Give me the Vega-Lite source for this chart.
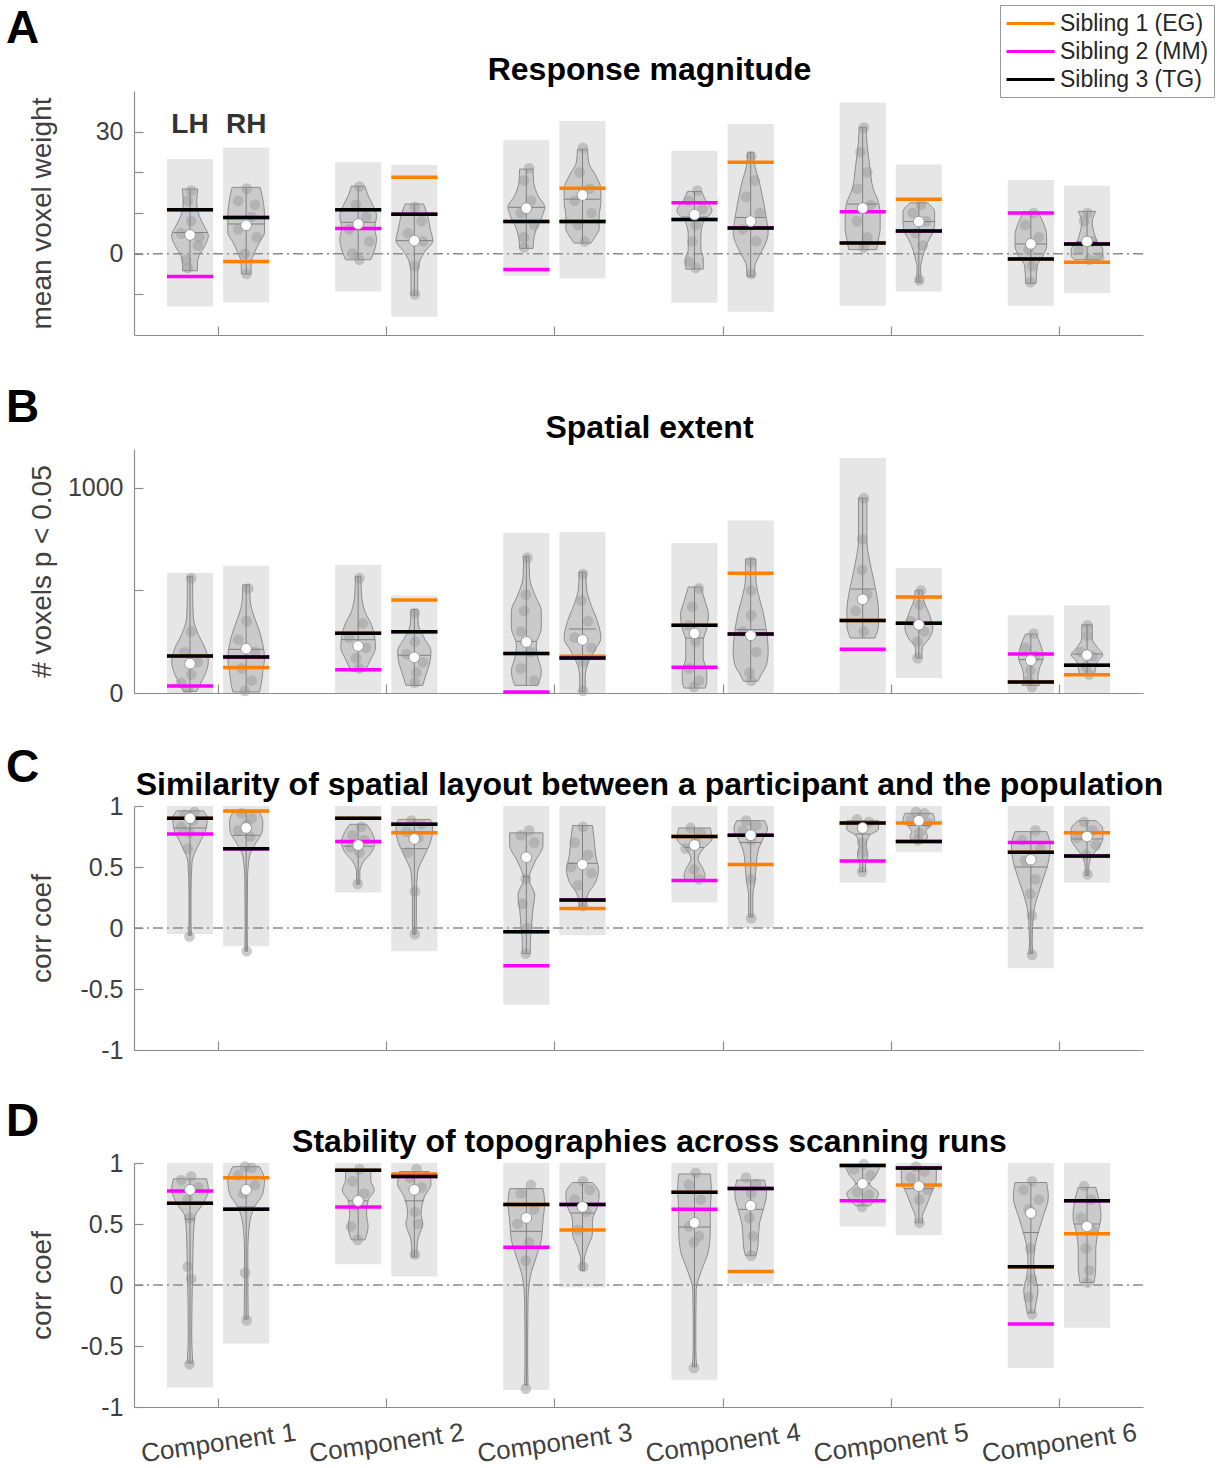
{
"$schema":"https://vega.github.io/schema/vega-lite/v6.json",
"background":"white",
"padding":{"left":6,"top":4,"right":5,"bottom":0},
"spacing":39,
"config":{"font":"Liberation Sans","view":{"stroke":null},
"axis":{"domainColor":"#8c8c8c","tickColor":"#8c8c8c","domainWidth":1.2,"tickWidth":1.2,"tickSize":-9,"labelColor":"#404040","labelFontSize":25,"titleColor":"#404040","titleFontSize":28,"titleFontWeight":"normal","grid":false,"labelFlush":false,"labelOverlap":false,"labelPadding":20},
"title":{"color":"#000","font":"Liberation Sans"}},
"datasets":{
"hl":[{"x":0.833,"y":31.6,"t":"LH"},{"x":1.167,"y":31.6,"t":"RH"}],
"gA":[
{"g":"A1L","c":0.833,"l":0.696,"r":0.970,"lo":-13,"hi":23.3,"md":4.6,"wl":-4.2,"wh":15.9,"mn":5.2,"ml":0.733,"mr":0.933,"EG":10.8,"MM":-5.6,"TG":10.8},
{"g":"A1R","c":1.167,"l":1.030,"r":1.304,"lo":-12,"hi":26.1,"md":7.0,"wl":-5,"wh":16.3,"mn":7.3,"ml":1.058,"mr":1.276,"EG":-1.9,"MM":8.9,"TG":8.9},
{"g":"A2L","c":1.833,"l":1.696,"r":1.970,"lo":-9.3,"hi":22.5,"md":7.3,"wl":-1.5,"wh":16.6,"mn":7.7,"ml":1.733,"mr":1.933,"EG":10.8,"MM":6.2,"TG":10.8},
{"g":"A2R","c":2.167,"l":2.030,"r":2.304,"lo":-15.5,"hi":21.8,"md":3.2,"wl":-10.2,"wh":12.2,"mn":3.2,"ml":2.058,"mr":2.276,"EG":18.8,"MM":9.7,"TG":9.7},
{"g":"A3L","c":2.833,"l":2.696,"r":2.970,"lo":-5.4,"hi":28,"md":11.2,"wl":1.3,"wh":20.8,"mn":11.4,"ml":2.724,"mr":2.942,"EG":7.9,"MM":-3.9,"TG":7.9},
{"g":"A3R","c":3.167,"l":3.030,"r":3.304,"lo":-6.1,"hi":32.6,"md":14.4,"wl":2.6,"wh":25.7,"mn":13.4,"ml":3.058,"mr":3.276,"EG":16.1,"MM":7.9,"TG":7.9},
{"g":"A4L","c":3.833,"l":3.696,"r":3.970,"lo":-12.1,"hi":25.3,"md":9.6,"wl":-3.8,"wh":15.3,"mn":9.0,"ml":3.76,"mr":3.91,"EG":8.4,"MM":12.5,"TG":8.4},
{"g":"A4R","c":4.167,"l":4.030,"r":4.304,"lo":-14.3,"hi":31.9,"md":8.0,"wl":-5.6,"wh":24.9,"mn":8.9,"ml":4.075,"mr":4.259,"EG":22.5,"MM":6.3,"TG":6.3},
{"g":"A5L","c":4.833,"l":4.696,"r":4.970,"lo":-12.8,"hi":37.2,"md":11.2,"wl":1.0,"wh":31.1,"mn":12.2,"ml":4.741,"mr":4.925,"EG":2.6,"MM":10.3,"TG":2.6},
{"g":"A5R","c":5.167,"l":5.030,"r":5.304,"lo":-9.3,"hi":21.9,"md":7.9,"wl":-7,"wh":12.5,"mn":7.9,"ml":5.073,"mr":5.261,"EG":13.4,"MM":5.6,"TG":5.6},
{"g":"A6L","c":5.833,"l":5.696,"r":5.970,"lo":-12.8,"hi":18.1,"md":2.4,"wl":-7.3,"wh":10.3,"mn":2.4,"ml":5.739,"mr":5.927,"EG":-1.3,"MM":10.0,"TG":-1.3},
{"g":"A6R","c":6.167,"l":6.030,"r":6.304,"lo":-9.7,"hi":16.7,"md":3.0,"wl":-1.5,"wh":10.4,"mn":3.0,"ml":6.107,"mr":6.227,"EG":-2.1,"MM":2.4,"TG":2.4}],
"gB":[
{"g":"B1L","c":0.833,"l":0.696,"r":0.970,"lo":0,"hi":585,"md":143,"wl":8,"wh":569,"mn":175,"ml":0.736,"mr":0.930,"EG":180,"MM":34,"TG":180},
{"g":"B1R","c":1.167,"l":1.030,"r":1.304,"lo":0,"hi":621,"md":216,"wl":5,"wh":528,"mn":213,"ml":1.063,"mr":1.271,"EG":124,"MM":176,"TG":176},
{"g":"B2L","c":1.833,"l":1.696,"r":1.970,"lo":0,"hi":626,"md":229,"wl":106,"wh":569,"mn":260,"ml":1.734,"mr":1.932,"EG":291,"MM":114,"TG":291},
{"g":"B2R","c":2.167,"l":2.030,"r":2.304,"lo":0,"hi":475,"md":174,"wl":37,"wh":407,"mn":184,"ml":2.070,"mr":2.264,"EG":454,"MM":299,"TG":299},
{"g":"B3L","c":2.833,"l":2.696,"r":2.970,"lo":0,"hi":780,"md":249,"wl":37,"wh":667,"mn":252,"ml":2.776,"mr":2.890,"EG":193,"MM":5,"TG":193},
{"g":"B3R","c":3.167,"l":3.030,"r":3.304,"lo":0,"hi":785,"md":259,"wl":5,"wh":590,"mn":312,"ml":3.087,"mr":3.247,"EG":179,"MM":171,"TG":171},
{"g":"B4L","c":3.833,"l":3.696,"r":3.970,"lo":0,"hi":732,"md":291,"wl":24,"wh":517,"mn":268,"ml":3.781,"mr":3.885,"EG":330,"MM":125,"TG":330},
{"g":"B4R","c":4.167,"l":4.030,"r":4.304,"lo":0,"hi":841,"md":281,"wl":57,"wh":654,"mn":309,"ml":4.080,"mr":4.254,"EG":584,"MM":288,"TG":288},
{"g":"B5L","c":4.833,"l":4.696,"r":4.970,"lo":0,"hi":1146,"md":457,"wl":268,"wh":951,"mn":507,"ml":4.763,"mr":4.903,"EG":353,"MM":213,"TG":353},
{"g":"B5R","c":5.167,"l":5.030,"r":5.304,"lo":73,"hi":610,"md":333,"wl":171,"wh":501,"mn":340,"ml":5.086,"mr":5.248,"EG":468,"MM":340,"TG":340},
{"g":"B6L","c":5.833,"l":5.696,"r":5.970,"lo":0,"hi":379,"md":159,"wl":37,"wh":288,"mn":163,"ml":5.762,"mr":5.904,"EG":54,"MM":190,"TG":54},
{"g":"B6R","c":6.167,"l":6.030,"r":6.304,"lo":0,"hi":428,"md":185,"wl":89,"wh":333,"mn":190,"ml":6.080,"mr":6.254,"EG":89,"MM":135,"TG":135}],
"gC":[
{"g":"C1L","c":0.833,"l":0.696,"r":0.970,"lo":-0.05,"hi":1,"md":0.90,"wl":-0.06,"wh":0.96,"mn":0.82,"ml":0.737,"mr":0.929,"EG":0.90,"MM":0.77,"TG":0.90},
{"g":"C1R","c":1.167,"l":1.030,"r":1.304,"lo":-0.15,"hi":1,"md":0.82,"wl":-0.19,"wh":0.95,"mn":0.76,"ml":1.087,"mr":1.247,"EG":0.96,"MM":0.65,"TG":0.65},
{"g":"C2L","c":1.833,"l":1.696,"r":1.970,"lo":0.29,"hi":1,"md":0.68,"wl":0.36,"wh":0.85,"mn":0.67,"ml":1.744,"mr":1.922,"EG":0.90,"MM":0.71,"TG":0.90},
{"g":"C2R","c":2.167,"l":2.030,"r":2.304,"lo":-0.19,"hi":1,"md":0.73,"wl":-0.05,"wh":0.89,"mn":0.65,"ml":2.092,"mr":2.242,"EG":0.78,"MM":0.85,"TG":0.85},
{"g":"C3L","c":2.833,"l":2.696,"r":2.970,"lo":-0.63,"hi":1,"md":0.58,"wl":-0.21,"wh":0.78,"mn":0.42,"ml":2.813,"mr":2.853,"EG":-0.03,"MM":-0.31,"TG":-0.03},
{"g":"C3R","c":3.167,"l":3.030,"r":3.304,"lo":-0.06,"hi":1,"md":0.52,"wl":0.18,"wh":0.84,"mn":0.53,"ml":3.078,"mr":3.256,"EG":0.16,"MM":0.23,"TG":0.23},
{"g":"C4L","c":3.833,"l":3.696,"r":3.970,"lo":0.21,"hi":1,"md":0.68,"wl":0.39,"wh":0.82,"mn":0.66,"ml":3.775,"mr":3.891,"EG":0.75,"MM":0.39,"TG":0.75},
{"g":"C4R","c":4.167,"l":4.030,"r":4.304,"lo":0.0,"hi":1,"md":0.76,"wl":0.09,"wh":0.88,"mn":0.70,"ml":4.10,"mr":4.234,"EG":0.52,"MM":0.76,"TG":0.76},
{"g":"C5L","c":4.833,"l":4.696,"r":4.970,"lo":0.37,"hi":1,"md":0.82,"wl":0.46,"wh":0.88,"mn":0.77,"ml":4.79,"mr":4.876,"EG":0.86,"MM":0.55,"TG":0.86},
{"g":"C5R","c":5.167,"l":5.030,"r":5.304,"lo":0.62,"hi":1,"md":0.88,"wl":0.70,"wh":0.94,"mn":0.84,"ml":5.103,"mr":5.231,"EG":0.86,"MM":0.71,"TG":0.71},
{"g":"C6L","c":5.833,"l":5.696,"r":5.970,"lo":-0.33,"hi":1,"md":0.56,"wl":-0.21,"wh":0.79,"mn":0.50,"ml":5.733,"mr":5.933,"EG":0.62,"MM":0.70,"TG":0.62},
{"g":"C6R","c":6.167,"l":6.030,"r":6.304,"lo":0.37,"hi":1,"md":0.75,"wl":0.43,"wh":0.88,"mn":0.73,"ml":6.073,"mr":6.261,"EG":0.78,"MM":0.59,"TG":0.59}],
"gD":[
{"g":"D1L","c":0.833,"l":0.696,"r":0.970,"lo":-0.84,"hi":1,"md":0.78,"wl":-0.64,"wh":0.87,"mn":0.54,"ml":0.803,"mr":0.863,"EG":0.67,"MM":0.77,"TG":0.67},
{"g":"D1R","c":1.167,"l":1.030,"r":1.304,"lo":-0.48,"hi":1,"md":0.78,"wl":-0.28,"wh":0.97,"mn":0.64,"ml":1.117,"mr":1.217,"EG":0.88,"MM":0.62,"TG":0.62},
{"g":"D2L","c":1.833,"l":1.696,"r":1.970,"lo":0.17,"hi":1,"md":0.69,"wl":0.37,"wh":0.94,"mn":0.69,"ml":1.774,"mr":1.892,"EG":0.94,"MM":0.64,"TG":0.94},
{"g":"D2R","c":2.167,"l":2.030,"r":2.304,"lo":0.07,"hi":1,"md":0.78,"wl":0.23,"wh":0.93,"mn":0.69,"ml":2.108,"mr":2.226,"EG":0.91,"MM":0.89,"TG":0.89},
{"g":"D3L","c":2.833,"l":2.696,"r":2.970,"lo":-0.86,"hi":1,"md":0.55,"wl":-0.82,"wh":0.79,"mn":0.44,"ml":2.742,"mr":2.924,"EG":0.66,"MM":0.31,"TG":0.66},
{"g":"D3R","c":3.167,"l":3.030,"r":3.304,"lo":-0.02,"hi":1,"md":0.64,"wl":0.12,"wh":0.84,"mn":0.59,"ml":3.095,"mr":3.239,"EG":0.45,"MM":0.66,"TG":0.66},
{"g":"D4L","c":3.833,"l":3.696,"r":3.970,"lo":-0.78,"hi":1,"md":0.51,"wl":-0.67,"wh":0.91,"mn":0.475,"ml":3.739,"mr":3.927,"EG":0.76,"MM":0.62,"TG":0.76},
{"g":"D4R","c":4.167,"l":4.030,"r":4.304,"lo":0.01,"hi":1,"md":0.65,"wl":0.24,"wh":0.86,"mn":0.62,"ml":4.094,"mr":4.240,"EG":0.11,"MM":0.79,"TG":0.79},
{"g":"D5L","c":4.833,"l":4.696,"r":4.970,"lo":0.48,"hi":1,"md":0.83,"wl":0.65,"wh":0.98,"mn":0.83,"ml":4.791,"mr":4.875,"EG":0.98,"MM":0.69,"TG":0.98},
{"g":"D5R","c":5.167,"l":5.030,"r":5.304,"lo":0.41,"hi":1,"md":0.81,"wl":0.51,"wh":0.95,"mn":0.79,"ml":5.08,"mr":5.254,"EG":0.82,"MM":0.96,"TG":0.96},
{"g":"D6L","c":5.833,"l":5.696,"r":5.970,"lo":-0.68,"hi":1,"md":0.59,"wl":-0.23,"wh":0.84,"mn":0.43,"ml":5.785,"mr":5.881,"EG":0.15,"MM":-0.32,"TG":0.15},
{"g":"D6R","c":6.167,"l":6.030,"r":6.304,"lo":-0.35,"hi":1,"md":0.48,"wl":0.02,"wh":0.80,"mn":0.50,"ml":6.091,"mr":6.243,"EG":0.42,"MM":0.69,"TG":0.69}],
"vA":[
{"g":"A1L","v":15.9,"l":0.787,"r":0.879},{"g":"A1L","v":12.6,"l":0.793,"r":0.873},{"g":"A1L","v":9.3,"l":0.778,"r":0.888},{"g":"A1L","v":6.9,"l":0.750,"r":0.916},{"g":"A1L","v":4.4,"l":0.724,"r":0.942},{"g":"A1L","v":2.0,"l":0.744,"r":0.922},{"g":"A1L","v":-0.5,"l":0.778,"r":0.888},{"g":"A1L","v":-2.1,"l":0.789,"r":0.877},{"g":"A1L","v":-4.2,"l":0.789,"r":0.877},
{"g":"A1R","v":16.3,"l":1.084,"r":1.250},{"g":"A1R","v":13.4,"l":1.068,"r":1.266},{"g":"A1R","v":9.3,"l":1.058,"r":1.276},{"g":"A1R","v":5.2,"l":1.058,"r":1.276},{"g":"A1R","v":2.8,"l":1.088,"r":1.246},{"g":"A1R","v":0.3,"l":1.117,"r":1.217},{"g":"A1R","v":-2.1,"l":1.137,"r":1.197},{"g":"A1R","v":-5.0,"l":1.139,"r":1.195},
{"g":"A2L","v":16.6,"l":1.793,"r":1.873},{"g":"A2L","v":14.3,"l":1.774,"r":1.892},{"g":"A2L","v":11.8,"l":1.744,"r":1.922},{"g":"A2L","v":9.3,"l":1.724,"r":1.942},{"g":"A2L","v":6.1,"l":1.734,"r":1.932},{"g":"A2L","v":3.6,"l":1.724,"r":1.942},{"g":"A2L","v":1.1,"l":1.734,"r":1.932},{"g":"A2L","v":-1.5,"l":1.758,"r":1.908},
{"g":"A2R","v":12.2,"l":2.112,"r":2.222},{"g":"A2R","v":9.3,"l":2.088,"r":2.246},{"g":"A2R","v":6.1,"l":2.072,"r":2.262},{"g":"A2R","v":3.2,"l":2.058,"r":2.276},{"g":"A2R","v":0.3,"l":2.108,"r":2.226},{"g":"A2R","v":-2.1,"l":2.137,"r":2.197},{"g":"A2R","v":-5.4,"l":2.147,"r":2.187},{"g":"A2R","v":-10.2,"l":2.147,"r":2.187},
{"g":"A3L","v":20.8,"l":2.793,"r":2.873},{"g":"A3L","v":17.5,"l":2.789,"r":2.877},{"g":"A3L","v":14.3,"l":2.764,"r":2.902},{"g":"A3L","v":11.4,"l":2.724,"r":2.942},{"g":"A3L","v":9.3,"l":2.738,"r":2.928},{"g":"A3L","v":6.1,"l":2.774,"r":2.892},{"g":"A3L","v":3.6,"l":2.789,"r":2.877},{"g":"A3L","v":1.3,"l":2.793,"r":2.873},
{"g":"A3R","v":25.7,"l":3.137,"r":3.197},{"g":"A3R","v":22.5,"l":3.131,"r":3.203},{"g":"A3R","v":19.2,"l":3.088,"r":3.246},{"g":"A3R","v":15.9,"l":3.058,"r":3.276},{"g":"A3R","v":12.6,"l":3.058,"r":3.276},{"g":"A3R","v":9.3,"l":3.068,"r":3.266},{"g":"A3R","v":6.1,"l":3.068,"r":3.266},{"g":"A3R","v":4.4,"l":3.088,"r":3.246},{"g":"A3R","v":2.6,"l":3.117,"r":3.217},
{"g":"A4L","v":15.3,"l":3.791,"r":3.875},{"g":"A4L","v":13.4,"l":3.771,"r":3.896},{"g":"A4L","v":10.6,"l":3.729,"r":3.937},{"g":"A4L","v":7.7,"l":3.781,"r":3.885},{"g":"A4L","v":4.4,"l":3.796,"r":3.871},{"g":"A4L","v":1.1,"l":3.796,"r":3.871},{"g":"A4L","v":-1.3,"l":3.781,"r":3.885},{"g":"A4L","v":-3.8,"l":3.781,"r":3.885},
{"g":"A4R","v":24.9,"l":4.150,"r":4.184},{"g":"A4R","v":21.6,"l":4.142,"r":4.192},{"g":"A4R","v":17.5,"l":4.115,"r":4.219},{"g":"A4R","v":13.4,"l":4.094,"r":4.240},{"g":"A4R","v":8.5,"l":4.073,"r":4.261},{"g":"A4R","v":5.2,"l":4.063,"r":4.271},{"g":"A4R","v":2.0,"l":4.084,"r":4.250},{"g":"A4R","v":-0.5,"l":4.115,"r":4.219},{"g":"A4R","v":-3.0,"l":4.142,"r":4.192},{"g":"A4R","v":-5.6,"l":4.146,"r":4.188},
{"g":"A5L","v":31.1,"l":4.812,"r":4.854},{"g":"A5L","v":27.4,"l":4.808,"r":4.858},{"g":"A5L","v":21.6,"l":4.791,"r":4.875},{"g":"A5L","v":15.9,"l":4.771,"r":4.896},{"g":"A5L","v":12.6,"l":4.739,"r":4.927},{"g":"A5L","v":9.3,"l":4.729,"r":4.937},{"g":"A5L","v":6.1,"l":4.729,"r":4.937},{"g":"A5L","v":3.6,"l":4.739,"r":4.927},{"g":"A5L","v":1.0,"l":4.750,"r":4.916},
{"g":"A5R","v":12.5,"l":5.115,"r":5.219},{"g":"A5R","v":10.2,"l":5.073,"r":5.261},{"g":"A5R","v":7.7,"l":5.073,"r":5.261},{"g":"A5R","v":5.2,"l":5.084,"r":5.250},{"g":"A5R","v":2.8,"l":5.115,"r":5.219},{"g":"A5R","v":-0.5,"l":5.142,"r":5.192},{"g":"A5R","v":-3.8,"l":5.157,"r":5.177},{"g":"A5R","v":-7.0,"l":5.150,"r":5.184},
{"g":"A6L","v":10.3,"l":5.791,"r":5.875},{"g":"A6L","v":7.7,"l":5.760,"r":5.906},{"g":"A6L","v":4.4,"l":5.739,"r":5.927},{"g":"A6L","v":2.0,"l":5.739,"r":5.927},{"g":"A6L","v":-0.5,"l":5.760,"r":5.906},{"g":"A6L","v":-3.0,"l":5.796,"r":5.871},{"g":"A6L","v":-7.3,"l":5.802,"r":5.864},
{"g":"A6R","v":10.4,"l":6.115,"r":6.219},{"g":"A6R","v":7.7,"l":6.136,"r":6.198},{"g":"A6R","v":5.2,"l":6.125,"r":6.209},{"g":"A6R","v":2.8,"l":6.105,"r":6.230},{"g":"A6R","v":1.1,"l":6.073,"r":6.261},{"g":"A6R","v":-0.5,"l":6.073,"r":6.261},{"g":"A6R","v":-1.5,"l":6.094,"r":6.240}],
"vB":[
{"g":"B1L","v":569,"l":0.817,"r":0.849},{"g":"B1L","v":480,"l":0.817,"r":0.849},{"g":"B1L","v":366,"l":0.813,"r":0.853},{"g":"B1L","v":285,"l":0.783,"r":0.883},{"g":"B1L","v":220,"l":0.744,"r":0.922},{"g":"B1L","v":154,"l":0.724,"r":0.942},{"g":"B1L","v":89,"l":0.744,"r":0.922},{"g":"B1L","v":41,"l":0.774,"r":0.892},{"g":"B1L","v":8,"l":0.793,"r":0.873},
{"g":"B1R","v":528,"l":1.147,"r":1.187},{"g":"B1R","v":447,"l":1.143,"r":1.191},{"g":"B1R","v":366,"l":1.117,"r":1.217},{"g":"B1R","v":301,"l":1.088,"r":1.246},{"g":"B1R","v":236,"l":1.068,"r":1.266},{"g":"B1R","v":171,"l":1.058,"r":1.276},{"g":"B1R","v":106,"l":1.068,"r":1.266},{"g":"B1R","v":41,"l":1.078,"r":1.256},{"g":"B1R","v":5,"l":1.088,"r":1.246},
{"g":"B2L","v":569,"l":1.817,"r":1.849},{"g":"B2L","v":480,"l":1.813,"r":1.853},{"g":"B2L","v":398,"l":1.793,"r":1.873},{"g":"B2L","v":333,"l":1.754,"r":1.912},{"g":"B2L","v":268,"l":1.734,"r":1.932},{"g":"B2L","v":220,"l":1.730,"r":1.936},{"g":"B2L","v":171,"l":1.754,"r":1.912},{"g":"B2L","v":106,"l":1.793,"r":1.873},
{"g":"B2R","v":407,"l":2.147,"r":2.187},{"g":"B2R","v":333,"l":2.143,"r":2.191},{"g":"B2R","v":268,"l":2.108,"r":2.226},{"g":"B2R","v":203,"l":2.068,"r":2.266},{"g":"B2R","v":138,"l":2.078,"r":2.256},{"g":"B2R","v":89,"l":2.098,"r":2.236},{"g":"B2R","v":37,"l":2.117,"r":2.217},
{"g":"B3L","v":667,"l":2.817,"r":2.849},{"g":"B3L","v":561,"l":2.813,"r":2.853},{"g":"B3L","v":480,"l":2.783,"r":2.883},{"g":"B3L","v":398,"l":2.744,"r":2.922},{"g":"B3L","v":317,"l":2.744,"r":2.922},{"g":"B3L","v":236,"l":2.774,"r":2.892},{"g":"B3L","v":171,"l":2.764,"r":2.902},{"g":"B3L","v":106,"l":2.744,"r":2.922},{"g":"B3L","v":37,"l":2.764,"r":2.902},
{"g":"B3R","v":590,"l":3.147,"r":3.187},{"g":"B3R","v":512,"l":3.143,"r":3.191},{"g":"B3R","v":431,"l":3.117,"r":3.217},{"g":"B3R","v":350,"l":3.078,"r":3.256},{"g":"B3R","v":268,"l":3.058,"r":3.276},{"g":"B3R","v":203,"l":3.098,"r":3.236},{"g":"B3R","v":138,"l":3.137,"r":3.197},{"g":"B3R","v":73,"l":3.151,"r":3.183},{"g":"B3R","v":5,"l":3.151,"r":3.183},
{"g":"B4L","v":517,"l":3.796,"r":3.871},{"g":"B4L","v":447,"l":3.771,"r":3.896},{"g":"B4L","v":382,"l":3.750,"r":3.916},{"g":"B4L","v":317,"l":3.760,"r":3.906},{"g":"B4L","v":252,"l":3.781,"r":3.885},{"g":"B4L","v":171,"l":3.781,"r":3.885},{"g":"B4L","v":106,"l":3.760,"r":3.906},{"g":"B4L","v":57,"l":3.760,"r":3.906},{"g":"B4L","v":24,"l":3.771,"r":3.896},
{"g":"B4R","v":654,"l":4.136,"r":4.198},{"g":"B4R","v":561,"l":4.136,"r":4.198},{"g":"B4R","v":480,"l":4.121,"r":4.213},{"g":"B4R","v":398,"l":4.094,"r":4.240},{"g":"B4R","v":301,"l":4.073,"r":4.261},{"g":"B4R","v":203,"l":4.063,"r":4.271},{"g":"B4R","v":138,"l":4.073,"r":4.261},{"g":"B4R","v":89,"l":4.105,"r":4.230},{"g":"B4R","v":57,"l":4.125,"r":4.209},
{"g":"B5L","v":951,"l":4.808,"r":4.858},{"g":"B5L","v":837,"l":4.808,"r":4.858},{"g":"B5L","v":740,"l":4.808,"r":4.858},{"g":"B5L","v":642,"l":4.791,"r":4.875},{"g":"B5L","v":561,"l":4.771,"r":4.896},{"g":"B5L","v":480,"l":4.750,"r":4.916},{"g":"B5L","v":398,"l":4.739,"r":4.927},{"g":"B5L","v":333,"l":4.739,"r":4.927},{"g":"B5L","v":268,"l":4.760,"r":4.906},
{"g":"B5R","v":501,"l":5.146,"r":5.188},{"g":"B5R","v":447,"l":5.136,"r":5.198},{"g":"B5R","v":382,"l":5.105,"r":5.230},{"g":"B5R","v":317,"l":5.084,"r":5.250},{"g":"B5R","v":268,"l":5.105,"r":5.230},{"g":"B5R","v":220,"l":5.146,"r":5.188},{"g":"B5R","v":171,"l":5.150,"r":5.184},
{"g":"B6L","v":288,"l":5.802,"r":5.864},{"g":"B6L","v":236,"l":5.775,"r":5.891},{"g":"B6L","v":171,"l":5.760,"r":5.906},{"g":"B6L","v":122,"l":5.781,"r":5.885},{"g":"B6L","v":73,"l":5.791,"r":5.875},{"g":"B6L","v":37,"l":5.781,"r":5.885},
{"g":"B6R","v":333,"l":6.136,"r":6.198},{"g":"B6R","v":268,"l":6.136,"r":6.198},{"g":"B6R","v":220,"l":6.105,"r":6.230},{"g":"B6R","v":187,"l":6.073,"r":6.261},{"g":"B6R","v":154,"l":6.105,"r":6.230},{"g":"B6R","v":122,"l":6.115,"r":6.219},{"g":"B6R","v":89,"l":6.125,"r":6.209}],
"vC":[
{"g":"C1L","v":0.96,"l":0.754,"r":0.912},{"g":"C1L","v":0.90,"l":0.730,"r":0.936},{"g":"C1L","v":0.81,"l":0.738,"r":0.928},{"g":"C1L","v":0.73,"l":0.764,"r":0.902},{"g":"C1L","v":0.65,"l":0.793,"r":0.873},{"g":"C1L","v":0.54,"l":0.821,"r":0.845},{"g":"C1L","v":0.27,"l":0.827,"r":0.839},{"g":"C1L","v":0.05,"l":0.827,"r":0.839},{"g":"C1L","v":-0.06,"l":0.823,"r":0.843},
{"g":"C1R","v":0.95,"l":1.088,"r":1.246},{"g":"C1R","v":0.87,"l":1.068,"r":1.266},{"g":"C1R","v":0.79,"l":1.072,"r":1.262},{"g":"C1R","v":0.70,"l":1.108,"r":1.226},{"g":"C1R","v":0.59,"l":1.147,"r":1.187},{"g":"C1R","v":0.40,"l":1.159,"r":1.175},{"g":"C1R","v":-0.01,"l":1.161,"r":1.173},{"g":"C1R","v":-0.19,"l":1.159,"r":1.175},
{"g":"C2L","v":0.85,"l":1.783,"r":1.883},{"g":"C2L","v":0.79,"l":1.754,"r":1.912},{"g":"C2L","v":0.70,"l":1.734,"r":1.932},{"g":"C2L","v":0.62,"l":1.754,"r":1.912},{"g":"C2L","v":0.54,"l":1.803,"r":1.863},{"g":"C2L","v":0.46,"l":1.823,"r":1.843},{"g":"C2L","v":0.36,"l":1.823,"r":1.843},
{"g":"C2R","v":0.89,"l":2.072,"r":2.262},{"g":"C2R","v":0.81,"l":2.058,"r":2.276},{"g":"C2R","v":0.70,"l":2.072,"r":2.262},{"g":"C2R","v":0.59,"l":2.108,"r":2.226},{"g":"C2R","v":0.46,"l":2.147,"r":2.187},{"g":"C2R","v":0.27,"l":2.155,"r":2.179},{"g":"C2R","v":0.10,"l":2.155,"r":2.179},{"g":"C2R","v":-0.05,"l":2.157,"r":2.177},
{"g":"C3L","v":0.78,"l":2.734,"r":2.932},{"g":"C3L","v":0.68,"l":2.734,"r":2.932},{"g":"C3L","v":0.54,"l":2.783,"r":2.883},{"g":"C3L","v":0.40,"l":2.817,"r":2.849},{"g":"C3L","v":0.27,"l":2.783,"r":2.883},{"g":"C3L","v":0.16,"l":2.793,"r":2.873},{"g":"C3L","v":-0.01,"l":2.803,"r":2.863},{"g":"C3L","v":-0.12,"l":2.809,"r":2.857},{"g":"C3L","v":-0.21,"l":2.809,"r":2.857},
{"g":"C3R","v":0.84,"l":3.108,"r":3.226},{"g":"C3R","v":0.73,"l":3.098,"r":3.236},{"g":"C3R","v":0.59,"l":3.088,"r":3.246},{"g":"C3R","v":0.48,"l":3.072,"r":3.262},{"g":"C3R","v":0.38,"l":3.088,"r":3.246},{"g":"C3R","v":0.27,"l":3.137,"r":3.197},{"g":"C3R","v":0.18,"l":3.147,"r":3.187},
{"g":"C4L","v":0.82,"l":3.739,"r":3.927},{"g":"C4L","v":0.73,"l":3.729,"r":3.937},{"g":"C4L","v":0.65,"l":3.781,"r":3.885},{"g":"C4L","v":0.57,"l":3.812,"r":3.854},{"g":"C4L","v":0.48,"l":3.781,"r":3.885},{"g":"C4L","v":0.43,"l":3.771,"r":3.896},{"g":"C4L","v":0.39,"l":3.781,"r":3.885},
{"g":"C4R","v":0.88,"l":4.084,"r":4.250},{"g":"C4R","v":0.81,"l":4.067,"r":4.267},{"g":"C4R","v":0.73,"l":4.094,"r":4.240},{"g":"C4R","v":0.62,"l":4.125,"r":4.209},{"g":"C4R","v":0.48,"l":4.136,"r":4.198},{"g":"C4R","v":0.38,"l":4.142,"r":4.192},{"g":"C4R","v":0.27,"l":4.155,"r":4.180},{"g":"C4R","v":0.09,"l":4.155,"r":4.180},
{"g":"C5L","v":0.88,"l":4.739,"r":4.927},{"g":"C5L","v":0.81,"l":4.739,"r":4.927},{"g":"C5L","v":0.76,"l":4.791,"r":4.875},{"g":"C5L","v":0.68,"l":4.812,"r":4.854},{"g":"C5L","v":0.59,"l":4.802,"r":4.864},{"g":"C5L","v":0.54,"l":4.816,"r":4.850},{"g":"C5L","v":0.46,"l":4.816,"r":4.850},
{"g":"C5R","v":0.94,"l":5.084,"r":5.250},{"g":"C5R","v":0.88,"l":5.073,"r":5.261},{"g":"C5R","v":0.83,"l":5.105,"r":5.230},{"g":"C5R","v":0.79,"l":5.125,"r":5.209},{"g":"C5R","v":0.75,"l":5.115,"r":5.219},{"g":"C5R","v":0.70,"l":5.136,"r":5.198},
{"g":"C6L","v":0.79,"l":5.739,"r":5.927},{"g":"C6L","v":0.68,"l":5.718,"r":5.948},{"g":"C6L","v":0.54,"l":5.729,"r":5.937},{"g":"C6L","v":0.40,"l":5.760,"r":5.906},{"g":"C6L","v":0.27,"l":5.791,"r":5.875},{"g":"C6L","v":0.13,"l":5.816,"r":5.850},{"g":"C6L","v":-0.01,"l":5.823,"r":5.843},{"g":"C6L","v":-0.12,"l":5.825,"r":5.841},{"g":"C6L","v":-0.21,"l":5.820,"r":5.846},
{"g":"C6R","v":0.88,"l":6.115,"r":6.219},{"g":"C6R","v":0.81,"l":6.073,"r":6.261},{"g":"C6R","v":0.73,"l":6.073,"r":6.261},{"g":"C6R","v":0.65,"l":6.105,"r":6.230},{"g":"C6R","v":0.57,"l":6.146,"r":6.188},{"g":"C6R","v":0.48,"l":6.157,"r":6.177},{"g":"C6R","v":0.43,"l":6.157,"r":6.177}],
"vD":[
{"g":"D1L","v":0.87,"l":0.734,"r":0.932},{"g":"D1L","v":0.78,"l":0.724,"r":0.942},{"g":"D1L","v":0.67,"l":0.754,"r":0.912},{"g":"D1L","v":0.56,"l":0.803,"r":0.863},{"g":"D1L","v":0.39,"l":0.813,"r":0.853},{"g":"D1L","v":0.15,"l":0.817,"r":0.849},{"g":"D1L","v":-0.13,"l":0.821,"r":0.845},{"g":"D1L","v":-0.40,"l":0.823,"r":0.843},{"g":"D1L","v":-0.64,"l":0.817,"r":0.849},
{"g":"D1R","v":0.97,"l":1.088,"r":1.246},{"g":"D1R","v":0.86,"l":1.058,"r":1.276},{"g":"D1R","v":0.75,"l":1.068,"r":1.266},{"g":"D1R","v":0.64,"l":1.117,"r":1.217},{"g":"D1R","v":0.50,"l":1.147,"r":1.187},{"g":"D1R","v":0.28,"l":1.157,"r":1.177},{"g":"D1R","v":0.01,"l":1.157,"r":1.177},{"g":"D1R","v":-0.28,"l":1.155,"r":1.179},
{"g":"D2L","v":0.94,"l":1.758,"r":1.908},{"g":"D2L","v":0.86,"l":1.758,"r":1.908},{"g":"D2L","v":0.78,"l":1.738,"r":1.928},{"g":"D2L","v":0.69,"l":1.774,"r":1.892},{"g":"D2L","v":0.58,"l":1.783,"r":1.883},{"g":"D2L","v":0.48,"l":1.774,"r":1.892},{"g":"D2L","v":0.37,"l":1.793,"r":1.873},
{"g":"D2R","v":0.93,"l":2.078,"r":2.256},{"g":"D2R","v":0.83,"l":2.068,"r":2.266},{"g":"D2R","v":0.72,"l":2.108,"r":2.226},{"g":"D2R","v":0.58,"l":2.127,"r":2.207},{"g":"D2R","v":0.50,"l":2.117,"r":2.217},{"g":"D2R","v":0.39,"l":2.143,"r":2.191},{"g":"D2R","v":0.31,"l":2.151,"r":2.183},{"g":"D2R","v":0.23,"l":2.151,"r":2.183},
{"g":"D3L","v":0.79,"l":2.734,"r":2.932},{"g":"D3L","v":0.67,"l":2.724,"r":2.942},{"g":"D3L","v":0.53,"l":2.734,"r":2.932},{"g":"D3L","v":0.37,"l":2.744,"r":2.922},{"g":"D3L","v":0.23,"l":2.774,"r":2.892},{"g":"D3L","v":0.07,"l":2.809,"r":2.857},{"g":"D3L","v":-0.13,"l":2.823,"r":2.843},{"g":"D3L","v":-0.40,"l":2.825,"r":2.841},{"g":"D3L","v":-0.67,"l":2.825,"r":2.841},{"g":"D3L","v":-0.82,"l":2.823,"r":2.843},
{"g":"D3R","v":0.84,"l":3.108,"r":3.226},{"g":"D3R","v":0.75,"l":3.068,"r":3.266},{"g":"D3R","v":0.64,"l":3.078,"r":3.256},{"g":"D3R","v":0.53,"l":3.108,"r":3.226},{"g":"D3R","v":0.42,"l":3.108,"r":3.226},{"g":"D3R","v":0.31,"l":3.137,"r":3.197},{"g":"D3R","v":0.20,"l":3.157,"r":3.177},{"g":"D3R","v":0.12,"l":3.155,"r":3.179},
{"g":"D4L","v":0.91,"l":3.739,"r":3.927},{"g":"D4L","v":0.78,"l":3.733,"r":3.933},{"g":"D4L","v":0.61,"l":3.739,"r":3.927},{"g":"D4L","v":0.45,"l":3.739,"r":3.927},{"g":"D4L","v":0.28,"l":3.750,"r":3.916},{"g":"D4L","v":0.12,"l":3.791,"r":3.875},{"g":"D4L","v":-0.04,"l":3.823,"r":3.843},{"g":"D4L","v":-0.26,"l":3.825,"r":3.841},{"g":"D4L","v":-0.54,"l":3.825,"r":3.841},{"g":"D4L","v":-0.67,"l":3.820,"r":3.846},
{"g":"D4R","v":0.86,"l":4.084,"r":4.250},{"g":"D4R","v":0.75,"l":4.073,"r":4.261},{"g":"D4R","v":0.61,"l":4.094,"r":4.240},{"g":"D4R","v":0.50,"l":4.115,"r":4.219},{"g":"D4R","v":0.39,"l":4.121,"r":4.213},{"g":"D4R","v":0.31,"l":4.125,"r":4.209},{"g":"D4R","v":0.24,"l":4.136,"r":4.198},
{"g":"D5L","v":0.98,"l":4.729,"r":4.937},{"g":"D5L","v":0.91,"l":4.750,"r":4.916},{"g":"D5L","v":0.83,"l":4.791,"r":4.875},{"g":"D5L","v":0.75,"l":4.739,"r":4.927},{"g":"D5L","v":0.65,"l":4.791,"r":4.875},
{"g":"D5R","v":0.95,"l":5.063,"r":5.271},{"g":"D5R","v":0.86,"l":5.063,"r":5.271},{"g":"D5R","v":0.75,"l":5.094,"r":5.240},{"g":"D5R","v":0.64,"l":5.125,"r":5.209},{"g":"D5R","v":0.56,"l":5.146,"r":5.188},{"g":"D5R","v":0.51,"l":5.146,"r":5.188},
{"g":"D6L","v":0.84,"l":5.739,"r":5.927},{"g":"D6L","v":0.72,"l":5.729,"r":5.937},{"g":"D6L","v":0.56,"l":5.760,"r":5.906},{"g":"D6L","v":0.42,"l":5.791,"r":5.875},{"g":"D6L","v":0.28,"l":5.812,"r":5.854},{"g":"D6L","v":0.17,"l":5.816,"r":5.850},{"g":"D6L","v":0.07,"l":5.808,"r":5.858},{"g":"D6L","v":-0.04,"l":5.791,"r":5.875},{"g":"D6L","v":-0.15,"l":5.802,"r":5.864},{"g":"D6L","v":-0.23,"l":5.812,"r":5.854},
{"g":"D6R","v":0.80,"l":6.115,"r":6.219},{"g":"D6R","v":0.69,"l":6.094,"r":6.240},{"g":"D6R","v":0.56,"l":6.084,"r":6.250},{"g":"D6R","v":0.42,"l":6.105,"r":6.230},{"g":"D6R","v":0.28,"l":6.115,"r":6.219},{"g":"D6R","v":0.15,"l":6.115,"r":6.219},{"g":"D6R","v":0.02,"l":6.125,"r":6.209}],
"pA":[
{"x":0.84,"v":15.5},{"x":0.82,"v":13},{"x":0.84,"v":8},{"x":0.78,"v":5},{"x":0.89,"v":4},{"x":0.88,"v":2},{"x":0.81,"v":-1.5},{"x":0.82,"v":-3.5},
{"x":1.17,"v":16},{"x":1.12,"v":13},{"x":1.22,"v":12},{"x":1.20,"v":9},{"x":1.12,"v":6},{"x":1.23,"v":4},{"x":1.16,"v":0},{"x":1.17,"v":-5},
{"x":1.84,"v":16.5},{"x":1.82,"v":12},{"x":1.88,"v":9},{"x":1.78,"v":6},{"x":1.90,"v":3},{"x":1.80,"v":0},{"x":1.84,"v":-1.5},
{"x":2.17,"v":11.5},{"x":2.21,"v":8},{"x":2.13,"v":5},{"x":2.22,"v":3},{"x":2.17,"v":-3},{"x":2.17,"v":-10},
{"x":2.85,"v":21},{"x":2.82,"v":18},{"x":2.86,"v":13},{"x":2.80,"v":10},{"x":2.88,"v":7},{"x":2.82,"v":4},{"x":2.82,"v":1.5},
{"x":3.17,"v":26},{"x":3.15,"v":20},{"x":3.21,"v":16},{"x":3.12,"v":13},{"x":3.22,"v":10},{"x":3.14,"v":7},{"x":3.18,"v":3},
{"x":3.85,"v":15.5},{"x":3.80,"v":13},{"x":3.88,"v":11},{"x":3.84,"v":7},{"x":3.82,"v":3},{"x":3.80,"v":-2},{"x":3.84,"v":-3.5},
{"x":4.17,"v":24},{"x":4.19,"v":18},{"x":4.14,"v":14},{"x":4.22,"v":10},{"x":4.12,"v":6},{"x":4.20,"v":3},{"x":4.17,"v":-5},
{"x":4.84,"v":31},{"x":4.82,"v":25},{"x":4.86,"v":20},{"x":4.80,"v":16},{"x":4.88,"v":12},{"x":4.80,"v":8},{"x":4.86,"v":4},{"x":4.84,"v":1.5},
{"x":5.18,"v":12},{"x":5.13,"v":10},{"x":5.21,"v":8},{"x":5.15,"v":5},{"x":5.19,"v":2},{"x":5.17,"v":-6.5},
{"x":5.85,"v":10},{"x":5.80,"v":7},{"x":5.88,"v":4},{"x":5.82,"v":1},{"x":5.84,"v":-3},{"x":5.83,"v":-7},
{"x":6.17,"v":10},{"x":6.15,"v":8},{"x":6.20,"v":3},{"x":6.12,"v":1},{"x":6.24,"v":-1},{"x":6.18,"v":-1.5}],
"pB":[
{"x":0.84,"v":560},{"x":0.84,"v":300},{"x":0.80,"v":200},{"x":0.88,"v":150},{"x":0.84,"v":90},{"x":0.78,"v":50},{"x":0.82,"v":20},
{"x":1.18,"v":510},{"x":1.17,"v":350},{"x":1.12,"v":260},{"x":1.22,"v":200},{"x":1.14,"v":120},{"x":1.20,"v":60},{"x":1.16,"v":10},
{"x":1.84,"v":560},{"x":1.86,"v":340},{"x":1.78,"v":270},{"x":1.88,"v":220},{"x":1.82,"v":170},{"x":1.84,"v":120},
{"x":2.17,"v":390},{"x":2.17,"v":250},{"x":2.12,"v":190},{"x":2.22,"v":150},{"x":2.18,"v":100},{"x":2.17,"v":50},
{"x":2.84,"v":660},{"x":2.83,"v":480},{"x":2.82,"v":400},{"x":2.80,"v":300},{"x":2.86,"v":200},{"x":2.80,"v":120},{"x":2.88,"v":60},
{"x":3.17,"v":580},{"x":3.16,"v":450},{"x":3.20,"v":350},{"x":3.12,"v":270},{"x":3.22,"v":220},{"x":3.17,"v":150},{"x":3.17,"v":10},
{"x":3.86,"v":510},{"x":3.82,"v":420},{"x":3.80,"v":330},{"x":3.84,"v":250},{"x":3.80,"v":120},{"x":3.86,"v":60},{"x":3.83,"v":30},
{"x":4.17,"v":640},{"x":4.17,"v":500},{"x":4.17,"v":380},{"x":4.12,"v":300},{"x":4.20,"v":200},{"x":4.16,"v":100},{"x":4.17,"v":60},
{"x":4.84,"v":950},{"x":4.83,"v":750},{"x":4.83,"v":600},{"x":4.86,"v":480},{"x":4.79,"v":400},{"x":4.84,"v":300},
{"x":5.18,"v":500},{"x":5.17,"v":430},{"x":5.12,"v":350},{"x":5.20,"v":300},{"x":5.16,"v":250},{"x":5.16,"v":170},
{"x":5.85,"v":290},{"x":5.80,"v":220},{"x":5.86,"v":180},{"x":5.83,"v":110},{"x":5.82,"v":60},{"x":5.84,"v":30},
{"x":6.17,"v":330},{"x":6.17,"v":280},{"x":6.13,"v":200},{"x":6.20,"v":180},{"x":6.16,"v":130},{"x":6.18,"v":90}],
"pC":[
{"x":0.86,"v":0.95},{"x":0.80,"v":0.93},{"x":0.85,"v":0.88},{"x":0.78,"v":0.83},{"x":0.83,"v":0.78},{"x":0.82,"v":0.65},{"x":0.83,"v":-0.07},
{"x":1.14,"v":0.94},{"x":1.20,"v":0.90},{"x":1.17,"v":0.85},{"x":1.12,"v":0.80},{"x":1.19,"v":0.75},{"x":1.17,"v":-0.19},
{"x":1.85,"v":0.83},{"x":1.80,"v":0.76},{"x":1.87,"v":0.72},{"x":1.79,"v":0.66},{"x":1.84,"v":0.62},{"x":1.83,"v":0.36},
{"x":2.15,"v":0.88},{"x":2.21,"v":0.85},{"x":2.12,"v":0.79},{"x":2.19,"v":0.74},{"x":2.13,"v":0.62},{"x":2.17,"v":0.30},{"x":2.17,"v":-0.05},
{"x":2.85,"v":0.80},{"x":2.80,"v":0.76},{"x":2.88,"v":0.70},{"x":2.83,"v":0.40},{"x":2.81,"v":0.20},{"x":2.84,"v":0.00},{"x":2.83,"v":-0.21},
{"x":3.17,"v":0.83},{"x":3.12,"v":0.70},{"x":3.20,"v":0.60},{"x":3.10,"v":0.50},{"x":3.22,"v":0.45},{"x":3.14,"v":0.35},{"x":3.17,"v":0.18},
{"x":3.81,"v":0.82},{"x":3.87,"v":0.78},{"x":3.84,"v":0.70},{"x":3.78,"v":0.65},{"x":3.83,"v":0.48},{"x":3.86,"v":0.40},
{"x":4.14,"v":0.88},{"x":4.20,"v":0.84},{"x":4.12,"v":0.80},{"x":4.17,"v":0.72},{"x":4.17,"v":0.40},{"x":4.17,"v":0.08},
{"x":4.80,"v":0.89},{"x":4.87,"v":0.87},{"x":4.84,"v":0.84},{"x":4.83,"v":0.70},{"x":4.83,"v":0.62},{"x":4.83,"v":0.46},
{"x":5.15,"v":0.95},{"x":5.20,"v":0.94},{"x":5.12,"v":0.89},{"x":5.22,"v":0.86},{"x":5.17,"v":0.78},{"x":5.16,"v":0.72},
{"x":5.86,"v":0.80},{"x":5.78,"v":0.72},{"x":5.89,"v":0.65},{"x":5.80,"v":0.55},{"x":5.86,"v":0.40},{"x":5.83,"v":0.28},{"x":5.84,"v":0.10},{"x":5.84,"v":-0.22},
{"x":6.15,"v":0.87},{"x":6.20,"v":0.80},{"x":6.11,"v":0.74},{"x":6.22,"v":0.68},{"x":6.16,"v":0.60},{"x":6.17,"v":0.44}],
"pD":[
{"x":0.84,"v":0.89},{"x":0.78,"v":0.86},{"x":0.88,"v":0.80},{"x":0.82,"v":0.70},{"x":0.83,"v":0.55},{"x":0.82,"v":0.15},{"x":0.84,"v":0.05},{"x":0.83,"v":-0.65},
{"x":1.16,"v":0.97},{"x":1.20,"v":0.96},{"x":1.12,"v":0.90},{"x":1.22,"v":0.82},{"x":1.15,"v":0.75},{"x":1.16,"v":0.10},{"x":1.17,"v":-0.29},
{"x":1.84,"v":0.95},{"x":1.80,"v":0.85},{"x":1.87,"v":0.75},{"x":1.82,"v":0.65},{"x":1.79,"v":0.48},{"x":1.83,"v":0.37},
{"x":2.18,"v":0.95},{"x":2.14,"v":0.88},{"x":2.21,"v":0.80},{"x":2.17,"v":0.60},{"x":2.19,"v":0.50},{"x":2.17,"v":0.25},
{"x":2.86,"v":0.82},{"x":2.80,"v":0.75},{"x":2.88,"v":0.62},{"x":2.78,"v":0.50},{"x":2.85,"v":0.35},{"x":2.83,"v":0.20},{"x":2.83,"v":-0.85},
{"x":3.17,"v":0.85},{"x":3.21,"v":0.78},{"x":3.12,"v":0.70},{"x":3.19,"v":0.60},{"x":3.14,"v":0.45},{"x":3.17,"v":0.15},
{"x":3.84,"v":0.92},{"x":3.80,"v":0.82},{"x":3.87,"v":0.70},{"x":3.80,"v":0.48},{"x":3.86,"v":0.40},{"x":3.83,"v":0.35},{"x":3.83,"v":-0.68},
{"x":4.14,"v":0.88},{"x":4.20,"v":0.83},{"x":4.17,"v":0.75},{"x":4.16,"v":0.55},{"x":4.18,"v":0.40},{"x":4.17,"v":0.24},
{"x":4.84,"v":0.99},{"x":4.78,"v":0.95},{"x":4.88,"v":0.90},{"x":4.80,"v":0.76},{"x":4.87,"v":0.74},{"x":4.83,"v":0.64},
{"x":5.15,"v":0.97},{"x":5.20,"v":0.93},{"x":5.12,"v":0.88},{"x":5.22,"v":0.78},{"x":5.17,"v":0.70},{"x":5.17,"v":0.51},
{"x":5.84,"v":0.85},{"x":5.79,"v":0.78},{"x":5.88,"v":0.70},{"x":5.82,"v":0.62},{"x":5.83,"v":0.30},{"x":5.84,"v":0.05},{"x":5.82,"v":-0.10},{"x":5.84,"v":-0.24},
{"x":6.15,"v":0.81},{"x":6.19,"v":0.70},{"x":6.13,"v":0.55},{"x":6.20,"v":0.45},{"x":6.16,"v":0.30},{"x":6.18,"v":0.12},{"x":6.17,"v":0.02}]
},
"vconcat":[
{"spacing":48,"vconcat":[
{"title":{"text":"A","fontSize":46,"fontWeight":"bold","anchor":"start","frame":"bounds","dx":-22,"offset":-34.6,"baseline":"alphabetic"},
"vconcat":[{"width":1009,"height":244,
"title":{"text":"Response magnitude","fontSize":32,"fontWeight":"bold","anchor":"middle","frame":"group","dx":11,"offset":-21,"baseline":"alphabetic"},
"layer":[
{"data":{"name":"gA"},"mark":{"type":"rect","color":"#e6e6e6"},"encoding":{"x":{"field":"l","type":"quantitative","scale":{"domain":[0.5,6.5],"nice":false,"zero":false},"axis":{"title":null,"values":[1,2,3,4,5,6],"labels":false}},"x2":{"field":"r"},"y":{"field":"lo","type":"quantitative","scale":{"domain":[-20,40],"nice":false,"zero":false},"axis":{"title":"mean voxel weight","titleX":-78,"values":[-10,0,10,20,30],"labelExpr":"datum.value == 0 || datum.value == 30 ? datum.label : ''"}},"y2":{"field":"hi"}}},
{"data":{"values":[{}]},"mark":{"type":"rule","color":"#8c8c8c","strokeDash":[10,4,2,4],"strokeWidth":1.5},"encoding":{"y":{"datum":0,"type":"quantitative"}}},
{"data":{"name":"pA"},"mark":{"type":"circle","size":115,"color":"#999999","opacity":0.5},"encoding":{"x":{"field":"x","type":"quantitative"},"y":{"field":"v","type":"quantitative"}}},
{"data":{"name":"vA"},"mark":{"type":"area","orient":"horizontal","interpolate":"monotone","fill":"#a0a0a0","fillOpacity":0.4,"stroke":"#8c8c8c","strokeWidth":1},"encoding":{"y":{"field":"v","type":"quantitative"},"x":{"field":"l","type":"quantitative"},"x2":{"field":"r"},"detail":{"field":"g"}}},
{"data":{"name":"gA"},"mark":{"type":"rule","color":"#808080","strokeWidth":1},"encoding":{"x":{"field":"c","type":"quantitative"},"y":{"field":"wl","type":"quantitative"},"y2":{"field":"wh"}}},
{"data":{"name":"gA"},"mark":{"type":"rule","color":"#808080","strokeWidth":1},"encoding":{"x":{"field":"ml","type":"quantitative"},"x2":{"field":"mr"},"y":{"field":"mn","type":"quantitative"}}},
{"data":{"name":"gA"},"transform":[{"fold":["EG","MM","TG"],"as":["s","sv"]}],"mark":{"type":"rule","strokeWidth":3.5},"encoding":{"x":{"field":"l","type":"quantitative"},"x2":{"field":"r"},"y":{"field":"sv","type":"quantitative"},"color":{"field":"s","type":"nominal","scale":{"domain":["EG","MM","TG"],"range":["#ff8000","#ff00ff","#000000"]},"legend":{"title":null,"orient":"none","legendX":866,"legendY":-86,"symbolType":"M-2,0H2","symbolStrokeWidth":3,"symbolSize":576,"symbolOffset":12,"labelFontSize":23,"labelColor":"#262626","padding":5,"rowPadding":2,"labelOffset":16,"strokeColor":"#999","fillColor":"white","labelExpr":"datum.label == 'EG' ? 'Sibling 1 (EG)' : datum.label == 'MM' ? 'Sibling 2 (MM)' : 'Sibling 3 (TG)'"}}}},
{"data":{"name":"gA"},"mark":{"type":"circle","size":115,"fill":"white","stroke":"#999","strokeWidth":1,"opacity":1},"encoding":{"x":{"field":"c","type":"quantitative"},"y":{"field":"md","type":"quantitative"}}},
{"data":{"name":"hl"},"mark":{"type":"text","fontSize":28,"fontWeight":"bold","color":"#333"},"encoding":{"x":{"field":"x","type":"quantitative"},"y":{"field":"y","type":"quantitative"},"text":{"field":"t"}}}
]}]},
{"title":{"text":"B","fontSize":46,"fontWeight":"bold","anchor":"start","frame":"bounds","dx":-22,"offset":-55.6,"baseline":"alphabetic"},
"vconcat":[{"width":1009,"height":244,
"title":{"text":"Spatial extent","fontSize":32,"fontWeight":"bold","anchor":"middle","frame":"group","dx":11,"offset":-21,"baseline":"alphabetic"},
"layer":[
{"data":{"name":"gB"},"mark":{"type":"rect","color":"#e6e6e6"},"encoding":{"x":{"field":"l","type":"quantitative","scale":{"domain":[0.5,6.5],"nice":false,"zero":false},"axis":{"title":null,"values":[1,2,3,4,5,6],"labels":false}},"x2":{"field":"r"},"y":{"field":"lo","type":"quantitative","scale":{"domain":[0,1190],"nice":false,"zero":false},"axis":{"title":"# voxels p < 0.05","titleX":-78,"values":[0,500,1000],"format":"d","labelExpr":"datum.value == 500 ? '' : datum.label"}},"y2":{"field":"hi"}}},
{"data":{"name":"pB"},"mark":{"type":"circle","size":115,"color":"#999999","opacity":0.5},"encoding":{"x":{"field":"x","type":"quantitative"},"y":{"field":"v","type":"quantitative"}}},
{"data":{"name":"vB"},"mark":{"type":"area","orient":"horizontal","interpolate":"monotone","fill":"#a0a0a0","fillOpacity":0.4,"stroke":"#8c8c8c","strokeWidth":1},"encoding":{"y":{"field":"v","type":"quantitative"},"x":{"field":"l","type":"quantitative"},"x2":{"field":"r"},"detail":{"field":"g"}}},
{"data":{"name":"gB"},"mark":{"type":"rule","color":"#808080","strokeWidth":1},"encoding":{"x":{"field":"c","type":"quantitative"},"y":{"field":"wl","type":"quantitative"},"y2":{"field":"wh"}}},
{"data":{"name":"gB"},"mark":{"type":"rule","color":"#808080","strokeWidth":1},"encoding":{"x":{"field":"ml","type":"quantitative"},"x2":{"field":"mr"},"y":{"field":"mn","type":"quantitative"}}},
{"data":{"name":"gB"},"transform":[{"fold":["EG","MM","TG"],"as":["s","sv"]}],"mark":{"type":"rule","strokeWidth":3.5},"encoding":{"x":{"field":"l","type":"quantitative"},"x2":{"field":"r"},"y":{"field":"sv","type":"quantitative"},"color":{"field":"s","type":"nominal","scale":{"domain":["EG","MM","TG"],"range":["#ff8000","#ff00ff","#000000"]},"legend":null}}},
{"data":{"name":"gB"},"mark":{"type":"circle","size":115,"fill":"white","stroke":"#999","strokeWidth":1,"opacity":1},"encoding":{"x":{"field":"c","type":"quantitative"},"y":{"field":"md","type":"quantitative"}}}
]}]}
]},
{"spacing":36,"vconcat":[
{"title":{"text":"C","fontSize":46,"fontWeight":"bold","anchor":"start","frame":"bounds","dx":-22,"offset":-59.6,"baseline":"alphabetic"},
"vconcat":[{"width":1009,"height":244,
"title":{"text":"Similarity of spatial layout between a participant and the population","fontSize":32,"fontWeight":"bold","anchor":"middle","frame":"group","dx":11,"offset":-32.5,"baseline":"alphabetic"},
"layer":[
{"data":{"name":"gC"},"mark":{"type":"rect","color":"#e6e6e6"},"encoding":{"x":{"field":"l","type":"quantitative","scale":{"domain":[0.5,6.5],"nice":false,"zero":false},"axis":{"title":null,"values":[1,2,3,4,5,6],"labels":false}},"x2":{"field":"r"},"y":{"field":"lo","type":"quantitative","scale":{"domain":[-1,1],"nice":false,"zero":false},"axis":{"title":"corr coef","titleX":-78,"values":[-1,-0.5,0,0.5,1],"labelExpr":"datum.value < 0 ? '-' + format(-datum.value, '~g') : format(datum.value, '~g')"}},"y2":{"field":"hi"}}},
{"data":{"values":[{}]},"mark":{"type":"rule","color":"#8c8c8c","strokeDash":[10,4,2,4],"strokeWidth":1.5},"encoding":{"y":{"datum":0,"type":"quantitative"}}},
{"data":{"name":"pC"},"mark":{"type":"circle","size":115,"color":"#999999","opacity":0.5},"encoding":{"x":{"field":"x","type":"quantitative"},"y":{"field":"v","type":"quantitative"}}},
{"data":{"name":"vC"},"mark":{"type":"area","orient":"horizontal","interpolate":"monotone","fill":"#a0a0a0","fillOpacity":0.4,"stroke":"#8c8c8c","strokeWidth":1},"encoding":{"y":{"field":"v","type":"quantitative"},"x":{"field":"l","type":"quantitative"},"x2":{"field":"r"},"detail":{"field":"g"}}},
{"data":{"name":"gC"},"mark":{"type":"rule","color":"#808080","strokeWidth":1},"encoding":{"x":{"field":"c","type":"quantitative"},"y":{"field":"wl","type":"quantitative"},"y2":{"field":"wh"}}},
{"data":{"name":"gC"},"mark":{"type":"rule","color":"#808080","strokeWidth":1},"encoding":{"x":{"field":"ml","type":"quantitative"},"x2":{"field":"mr"},"y":{"field":"mn","type":"quantitative"}}},
{"data":{"name":"gC"},"transform":[{"fold":["EG","MM","TG"],"as":["s","sv"]}],"mark":{"type":"rule","strokeWidth":3.5},"encoding":{"x":{"field":"l","type":"quantitative"},"x2":{"field":"r"},"y":{"field":"sv","type":"quantitative"},"color":{"field":"s","type":"nominal","scale":{"domain":["EG","MM","TG"],"range":["#ff8000","#ff00ff","#000000"]},"legend":null}}},
{"data":{"name":"gC"},"mark":{"type":"circle","size":115,"fill":"white","stroke":"#999","strokeWidth":1,"opacity":1},"encoding":{"x":{"field":"c","type":"quantitative"},"y":{"field":"md","type":"quantitative"}}}
]}]},
{"title":{"text":"D","fontSize":46,"fontWeight":"bold","anchor":"start","frame":"bounds","dx":-22,"offset":-56.6,"baseline":"alphabetic"},
"vconcat":[{"width":1009,"height":244,
"title":{"text":"Stability of topographies across scanning runs","fontSize":32,"fontWeight":"bold","anchor":"middle","frame":"group","dx":11,"offset":-32.5,"baseline":"alphabetic"},
"layer":[
{"data":{"name":"gD"},"mark":{"type":"rect","color":"#e6e6e6"},"encoding":{"x":{"field":"l","type":"quantitative","scale":{"domain":[0.5,6.5],"nice":false,"zero":false},"axis":{"title":null,"values":[1,2,3,4,5,6],"labelExpr":"'Component ' + datum.value","labelAngle":-8,"labelAlign":"center","labelBaseline":"middle","labelPadding":45,"labelFontSize":26}},"x2":{"field":"r"},"y":{"field":"lo","type":"quantitative","scale":{"domain":[-1,1],"nice":false,"zero":false},"axis":{"title":"corr coef","titleX":-78,"values":[-1,-0.5,0,0.5,1],"labelExpr":"datum.value < 0 ? '-' + format(-datum.value, '~g') : format(datum.value, '~g')"}},"y2":{"field":"hi"}}},
{"data":{"values":[{}]},"mark":{"type":"rule","color":"#8c8c8c","strokeDash":[10,4,2,4],"strokeWidth":1.5},"encoding":{"y":{"datum":0,"type":"quantitative"}}},
{"data":{"name":"pD"},"mark":{"type":"circle","size":115,"color":"#999999","opacity":0.5},"encoding":{"x":{"field":"x","type":"quantitative"},"y":{"field":"v","type":"quantitative"}}},
{"data":{"name":"vD"},"mark":{"type":"area","orient":"horizontal","interpolate":"monotone","fill":"#a0a0a0","fillOpacity":0.4,"stroke":"#8c8c8c","strokeWidth":1},"encoding":{"y":{"field":"v","type":"quantitative"},"x":{"field":"l","type":"quantitative"},"x2":{"field":"r"},"detail":{"field":"g"}}},
{"data":{"name":"gD"},"mark":{"type":"rule","color":"#808080","strokeWidth":1},"encoding":{"x":{"field":"c","type":"quantitative"},"y":{"field":"wl","type":"quantitative"},"y2":{"field":"wh"}}},
{"data":{"name":"gD"},"mark":{"type":"rule","color":"#808080","strokeWidth":1},"encoding":{"x":{"field":"ml","type":"quantitative"},"x2":{"field":"mr"},"y":{"field":"mn","type":"quantitative"}}},
{"data":{"name":"gD"},"transform":[{"fold":["EG","MM","TG"],"as":["s","sv"]}],"mark":{"type":"rule","strokeWidth":3.5},"encoding":{"x":{"field":"l","type":"quantitative"},"x2":{"field":"r"},"y":{"field":"sv","type":"quantitative"},"color":{"field":"s","type":"nominal","scale":{"domain":["EG","MM","TG"],"range":["#ff8000","#ff00ff","#000000"]},"legend":null}}},
{"data":{"name":"gD"},"mark":{"type":"circle","size":115,"fill":"white","stroke":"#999","strokeWidth":1,"opacity":1},"encoding":{"x":{"field":"c","type":"quantitative"},"y":{"field":"md","type":"quantitative"}}}
]}]}
]}
]
}
